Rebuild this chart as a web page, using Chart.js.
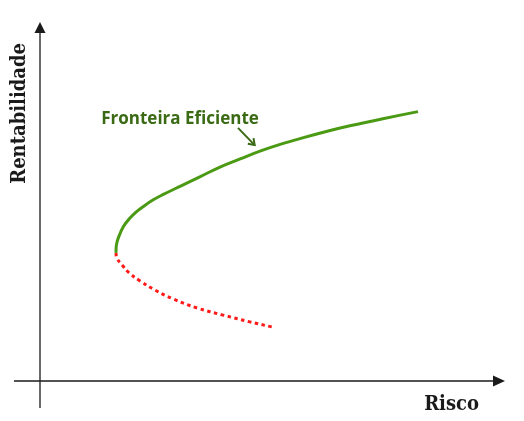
<!DOCTYPE html>
<html>
<head>
<meta charset="utf-8">
<script src="https://cdn.jsdelivr.net/npm/chart.js@4"></script>
<style>
  html, body { margin: 0; padding: 0; background: #fff; }
  #wrap { width: 524px; height: 421px; }
</style>
</head>
<body>
<div id="wrap"><canvas id="myChart"></canvas></div>
<script>
// risk (x) and return (y) on a 0-100 scale
const efficientRisk   = [17.3, 17.4, 17.8, 19.0, 20.5, 22.0, 23.5, 25.8, 28.1, 31.9, 36.4, 41.0, 45.6, 50.1, 54.7, 59.2, 66.1, 70.6, 78.1, 86.1];
const efficientReturn = [37.9, 40.2, 42.2, 45.7, 48.2, 50.1, 51.6, 53.6, 55.2, 57.6, 60.4, 63.3, 65.7, 68.0, 70.0, 71.7, 74.1, 75.5, 77.6, 79.7];
const lowerRisk   = [17.3, 17.5, 18.7, 20.3, 22.8, 26.2, 30.3, 35.8, 41.7, 47.8, 52.8];
const lowerReturn = [37.9, 36.4, 34.3, 32.0, 29.6, 26.9, 24.3, 21.6, 19.5, 17.5, 16.0];

const frontierLabel = "Fronteira Eficiente";
const xTitle = "Risco";
const yTitle = "Rentabilidade";

const toPoints = (xs, ys) => xs.map((x, i) => ({ x: x, y: ys[i] }));

const green = "#4b9a14";
const labelGreen = "#3a6b14";
const titleFont = { family: "'DejaVu Serif Condensed', 'DejaVu Serif'", size: 20, weight: "bold", lineHeight: 1.2 };

// arrows for the axes and the annotation
const sketchPlugin = {
    id: "sketch",
    afterDraw(chart) {
        const { ctx, chartArea, scales } = chart;
        const { left, right, top, bottom } = chartArea;
        ctx.save();
        ctx.strokeStyle = "#1a1a1a";
        ctx.fillStyle = "#1a1a1a";
        ctx.lineWidth = 1.3;

        // y axis
        ctx.beginPath();
        ctx.moveTo(left, bottom + 27);
        ctx.lineTo(left, top - 14);
        ctx.stroke();
        ctx.beginPath();
        ctx.moveTo(left, top - 21);
        ctx.lineTo(left - 5.5, top - 10);
        ctx.lineTo(left + 5.5, top - 10);
        ctx.closePath();
        ctx.fill();

        // x axis
        ctx.beginPath();
        ctx.moveTo(left - 26, bottom);
        ctx.lineTo(right + 18, bottom);
        ctx.stroke();
        ctx.beginPath();
        ctx.moveTo(right + 26, bottom);
        ctx.lineTo(right + 14, bottom - 5.5);
        ctx.lineTo(right + 14, bottom + 5.5);
        ctx.closePath();
        ctx.fill();

        // label
        const x = scales.x, y = scales.y;
        ctx.fillStyle = labelGreen;
        ctx.font = "bold 17px 'Open Sans'";
        ctx.textAlign = "center";
        ctx.textBaseline = "middle";
        ctx.fillText(frontierLabel, x.getPixelForValue(31.9), y.getPixelForValue(77.5));

        // small arrow to the curve
        const x0 = x.getPixelForValue(45.1), y0 = y.getPixelForValue(74.9);
        const x1 = x.getPixelForValue(48.9), y1 = y.getPixelForValue(69.8);
        ctx.strokeStyle = labelGreen;
        ctx.lineWidth = 2;
        ctx.beginPath();
        ctx.moveTo(x0, y0);
        ctx.lineTo(x1, y1);
        ctx.stroke();
        const ang = Math.atan2(y1 - y0, x1 - x0);
        ctx.beginPath();
        ctx.moveTo(x1 - 7 * Math.cos(ang - 0.6), y1 - 7 * Math.sin(ang - 0.6));
        ctx.lineTo(x1, y1);
        ctx.lineTo(x1 - 7 * Math.cos(ang + 0.6), y1 - 7 * Math.sin(ang + 0.6));
        ctx.stroke();
        ctx.restore();
    }
};

new Chart("myChart", {
    type: "scatter",
    data: {
        datasets: [
            {
                label: "Fronteira Eficiente",
                data: toPoints(efficientRisk, efficientReturn),
                showLine: true,
                borderColor: green,
                borderWidth: 3,
                tension: 0.4,
                pointRadius: 0,
                fill: false,
            },
            {
                label: "Carteiras ineficientes",
                data: toPoints(lowerRisk, lowerReturn),
                showLine: true,
                borderColor: "#ff1a1a",
                borderWidth: 3,
                borderDash: [3.5, 3.5],
                tension: 0.4,
                pointRadius: 0,
                fill: false,
            },
        ],
    },
    options: {
        responsive: true,
        maintainAspectRatio: false,
        animation: false,
        layout: {
            padding: { top: 43, right: 45, bottom: 0, left: 0 },
        },
        plugins: {
            legend: { display: false },
            tooltip: { enabled: false },
        },
        scales: {
            x: {
                min: 0,
                max: 100,
                grid: { display: false, drawTicks: false },
                border: { display: false },
                ticks: { display: false },
                title: {
                    display: true,
                    text: xTitle,
                    align: "end",
                    color: "#1a1a1a",
                    font: titleFont,
                    padding: { top: 12, bottom: 4 },
                },
            },
            y: {
                min: 0,
                max: 100,
                grid: { display: false, drawTicks: false },
                border: { display: false },
                ticks: { display: false },
                title: {
                    display: true,
                    text: yTitle,
                    align: "end",
                    color: "#1a1a1a",
                    font: titleFont,
                    padding: { top: 8, bottom: 8 },
                },
            },
        },
    },
    plugins: [sketchPlugin],
});
</script>
</body>
</html>
